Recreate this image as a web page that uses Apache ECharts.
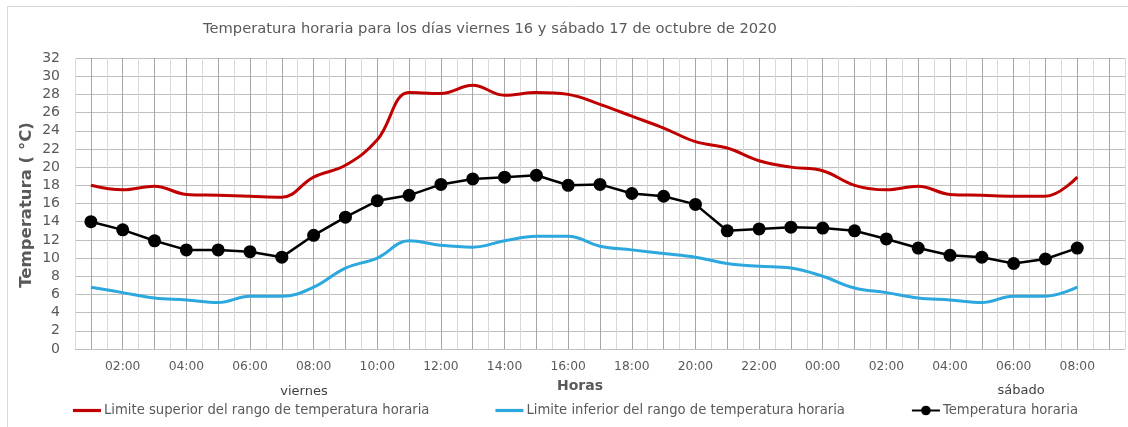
<!DOCTYPE html>
<html><head><meta charset="utf-8">
<script src="https://cdn.jsdelivr.net/npm/echarts@6/dist/echarts.min.js"></script>
<style>html,body{margin:0;padding:0;background:#fff}#c{width:1128px;height:427px}</style>
</head><body><div id="c"></div>
<script>
const titleText = 'Temperatura horaria para los días viernes 16 y sábado 17 de octubre de 2020';
const hours = ['01:00','02:00','03:00','04:00','05:00','06:00','07:00','08:00','09:00','10:00','11:00','12:00',
  '13:00','14:00','15:00','16:00','17:00','18:00','19:00','20:00','21:00','22:00','23:00','00:00',
  '01:00','02:00','03:00','04:00','05:00','06:00','07:00','08:00','09:00'];
const yTicks = [0,2,4,6,8,10,12,14,16,18,20,22,24,26,28,30,32];
const upper = [18.0,17.5,17.9,17.0,16.9,16.8,16.7,18.9,20.2,23.0,28.2,28.1,29.0,27.9,28.2,28.0,26.9,25.6,24.3,22.8,22.1,20.7,20.0,19.6,18.0,17.5,17.9,17.0,16.9,16.8,16.8,18.9];
const lower = [6.8,6.2,5.6,5.4,5.1,5.8,5.8,6.8,8.9,10.0,11.9,11.4,11.2,11.9,12.4,12.4,11.3,10.9,10.5,10.1,9.4,9.1,8.9,8.0,6.7,6.2,5.6,5.4,5.1,5.8,5.8,6.8];
const temp = [14.0,13.1,11.9,10.9,10.9,10.7,10.1,12.5,14.5,16.3,16.9,18.1,18.7,18.9,19.1,18.0,18.1,17.1,16.8,15.9,13.0,13.2,13.4,13.3,13.0,12.1,11.1,10.3,10.1,9.4,9.9,11.1];
const seriesNames = ['Limite superior del rango de temperatura horaria','Limite inferior del rango de temperatura horaria','Temperatura horaria'];
const dayLabels = ['viernes','sábado'];

const toPairs = arr => arr.map((v,i)=>[i+1,v]);
const txt = '#595959';
const font = 'DejaVu Sans';
const cRed = '#C00000', cBlue = '#2CA8DE';
const barIcon = 'path://M0,0L28,0L28,3.2L0,3.2Z';

const chart = echarts.init(document.getElementById('c'));
chart.setOption({
  animation:false,
  backgroundColor:'#fff',
  title:{text:titleText,left:203,top:22,padding:0,textStyle:{fontFamily:font,fontSize:14.7,fontWeight:'normal',color:txt}},
  grid:{left:75,right:0,top:58,height:291,containLabel:false},
  xAxis:{type:'value',min:0.5,max:33.5,interval:0.5,
    axisLine:{show:false},axisTick:{show:false},
    splitLine:{show:true,showMinLine:true,showMaxLine:true,lineStyle:{color:['#d9d9d9','#a6a6a6'],width:1}},
    axisLabel:{fontFamily:font,fontSize:12.3,color:txt,margin:12,
      formatter:v=>{ if(Math.abs(v-Math.round(v))>1e-6) return ''; const h=hours[Math.round(v)-1]; if(!h) return ''; return (parseInt(h,10)%2===0)?h:''; }}
  },
  yAxis:{type:'value',min:yTicks[0],max:yTicks[yTicks.length-1],interval:2,
    axisLine:{show:false},axisTick:{show:false},
    splitLine:{lineStyle:{color:'#bfbfbf',width:1}},
    axisLabel:{fontFamily:font,fontSize:14,color:txt,margin:15}
  },
  legend:{left:73,top:404,padding:0,itemWidth:28,itemHeight:12,itemGap:66,
    textStyle:{fontFamily:font,fontSize:13.2,color:txt,padding:[0,0,0,-2]},
    data:[
      {name:seriesNames[0],icon:barIcon,itemStyle:{color:cRed}},
      {name:seriesNames[1],icon:barIcon,itemStyle:{color:cBlue}},
      {name:seriesNames[2]}
    ]},
  series:[
    {name:seriesNames[0],type:'line',data:toPairs(upper),smooth:0.4,symbol:'none',lineStyle:{color:cRed,width:3},itemStyle:{color:cRed},z:2},
    {name:seriesNames[1],type:'line',data:toPairs(lower),smooth:0.4,symbol:'none',lineStyle:{color:cBlue,width:3},itemStyle:{color:cBlue},z:2},
    {name:seriesNames[2],type:'line',data:toPairs(temp),smooth:false,symbol:'circle',symbolSize:13,lineStyle:{color:'#000',width:2.5},itemStyle:{color:'#000'},z:3}
  ],
  graphic:[
    {type:'rect',shape:{x:7.5,y:6.5,width:1140,height:440},style:{fill:'none',stroke:'#d9d9d9',lineWidth:1},silent:true,z:-1},
    {type:'text',x:27,y:205,rotation:Math.PI/2,style:{text:'Temperatura ( °C)',align:'center',verticalAlign:'middle',fontFamily:font,fontSize:16.5,fontWeight:'bold',fill:txt}},
    {type:'text',x:580,y:386,style:{text:'Horas',align:'center',verticalAlign:'middle',fontFamily:font,fontSize:14,fontWeight:'bold',fill:txt}},
    {type:'text',x:304,y:392,style:{text:dayLabels[0],align:'center',verticalAlign:'middle',fontFamily:font,fontSize:13,fill:'#404040'}},
    {type:'text',x:1021,y:391,style:{text:dayLabels[1],align:'center',verticalAlign:'middle',fontFamily:font,fontSize:13,fill:'#404040'}}
  ]
});
</script></body></html>
